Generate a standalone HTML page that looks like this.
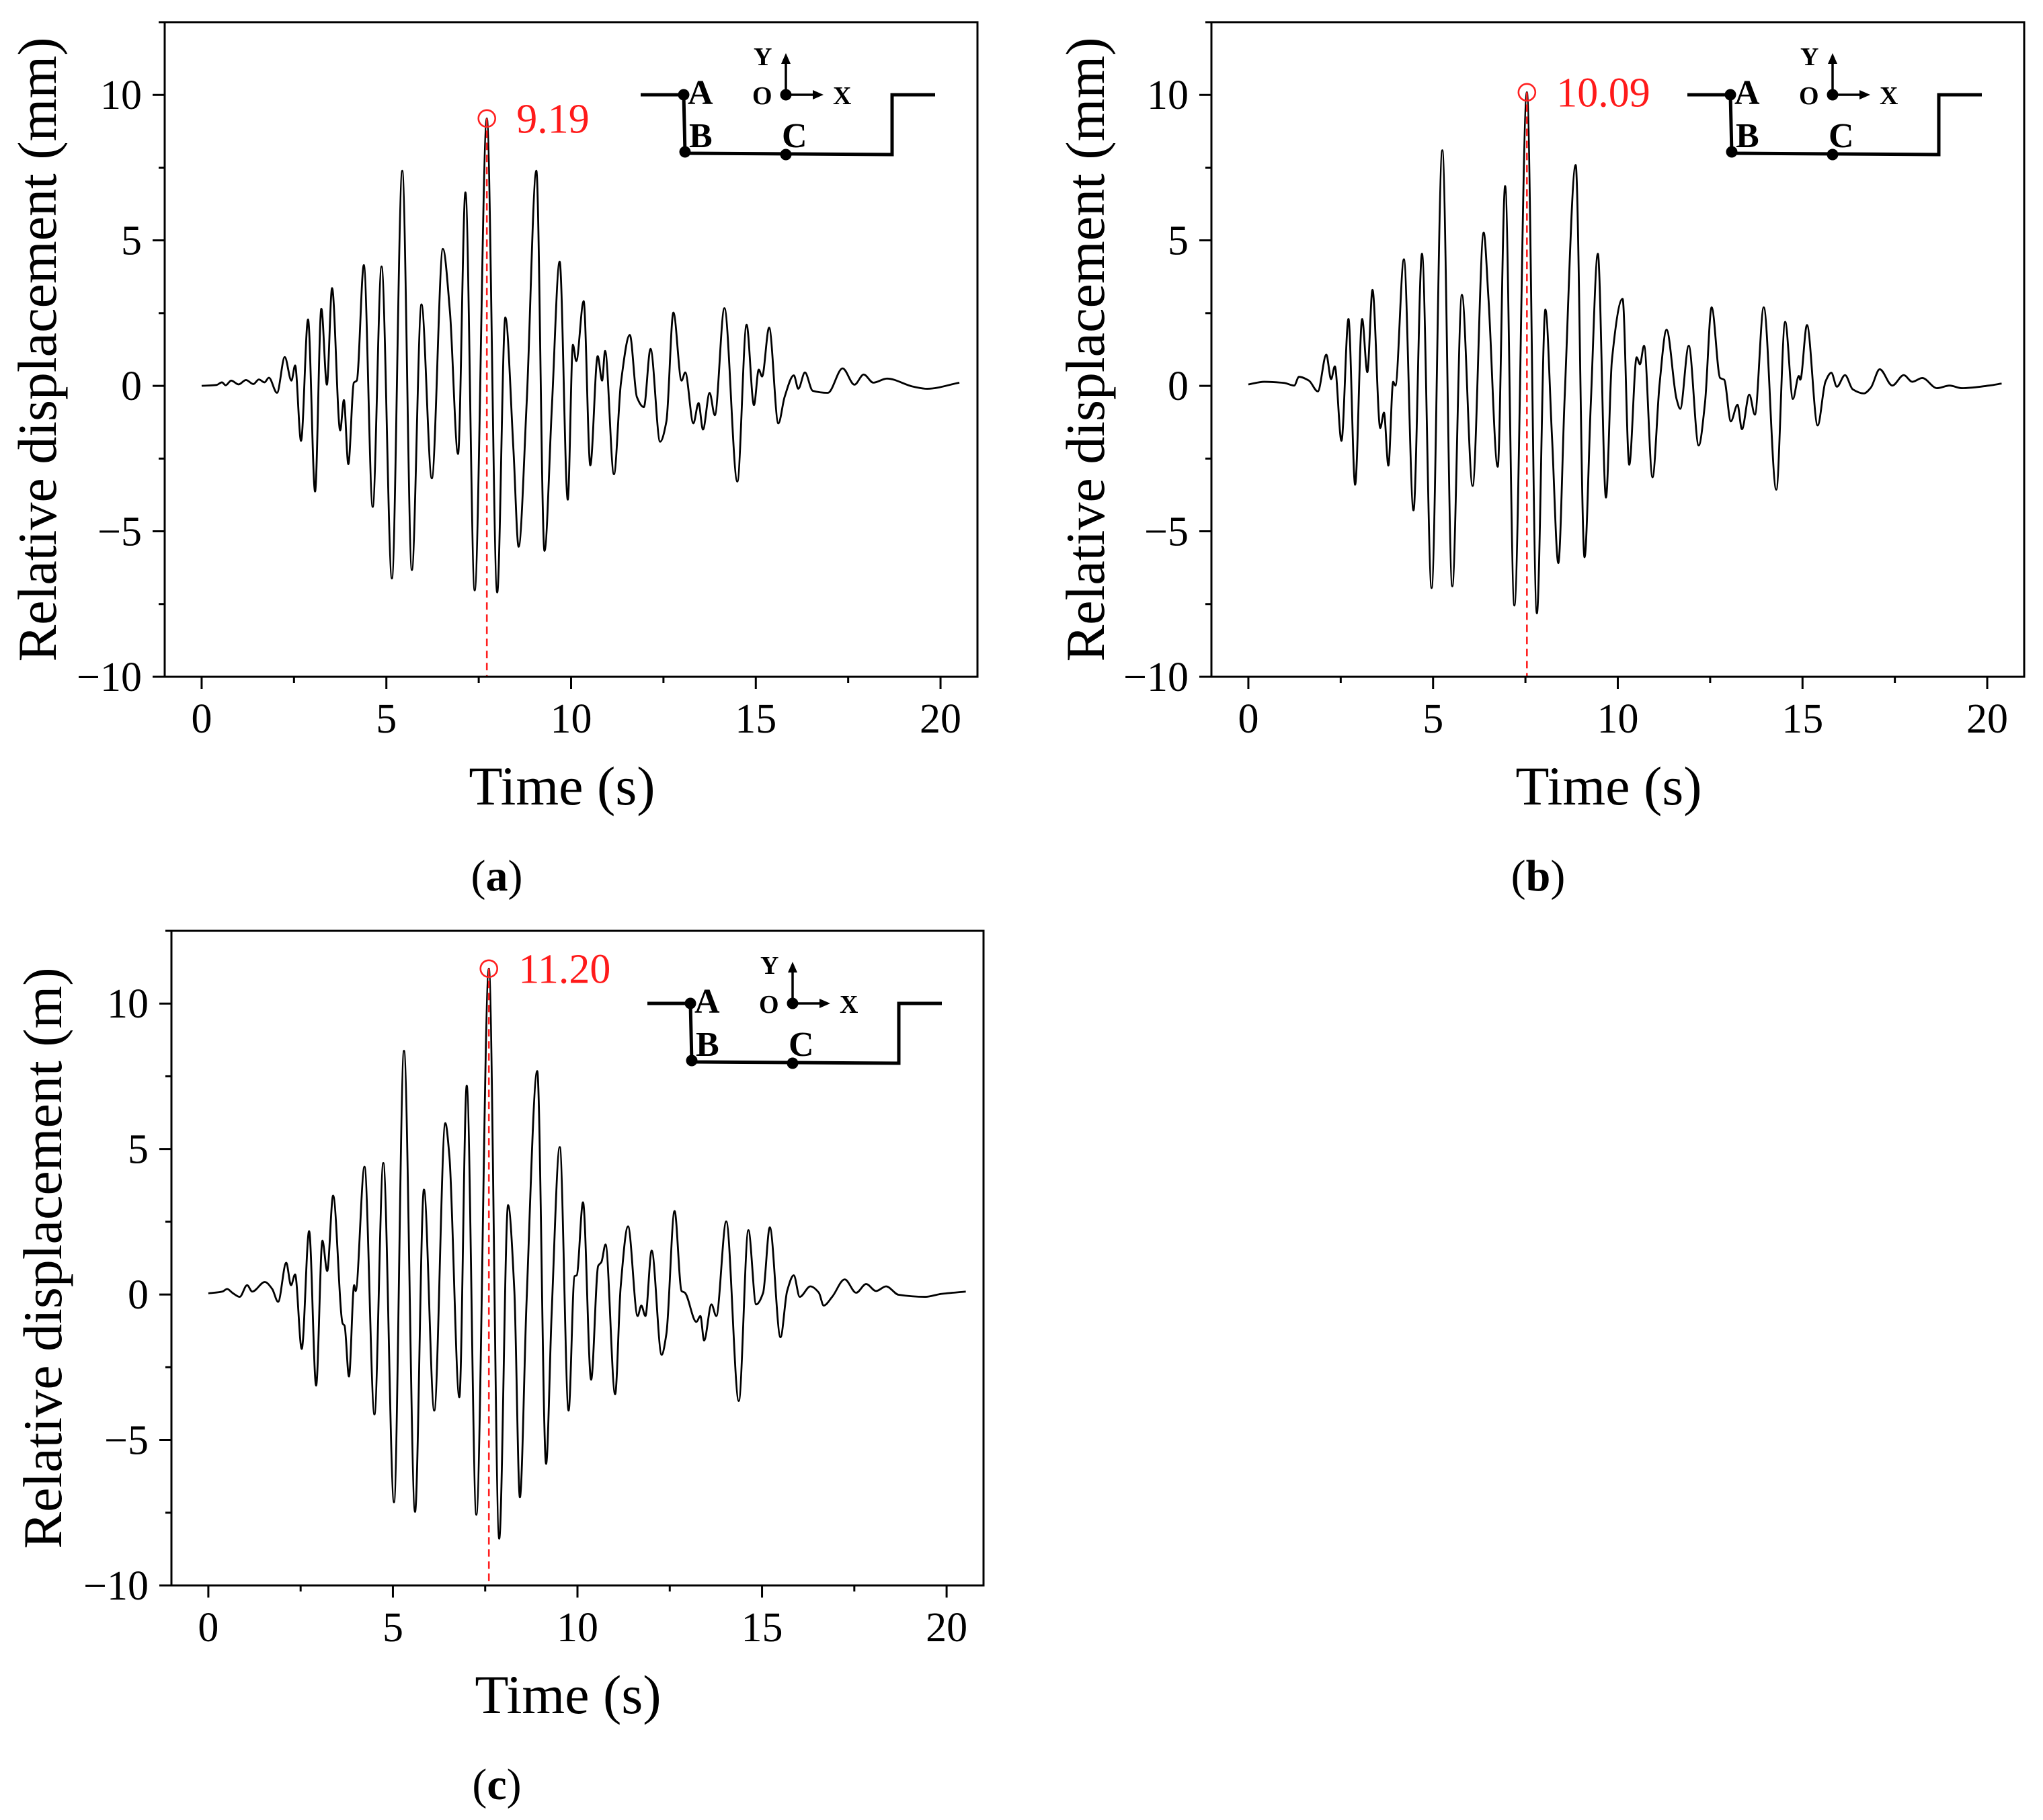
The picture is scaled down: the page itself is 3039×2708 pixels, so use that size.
<!DOCTYPE html>
<html><head><meta charset="utf-8">
<style>
html,body{margin:0;padding:0;background:#fff;}
svg{display:block;}
text{font-family:"Liberation Serif","DejaVu Serif",serif;}
</style></head>
<body>
<svg id="fig" xmlns="http://www.w3.org/2000/svg" width="3039" height="2708" viewBox="0 0 3039 2708"></svg>
<script>
// ---- data ----
const xTickLabels = ["0","5","10","15","20"];
const xTickValues = [0,5,10,15,20];
const yTickValues = [10,5,0,-5,-10];
const yTickText = ["10","5","0","\u22125","\u221210"];
const panelLetters = ["a","b","c"];
const yTitles = ["Relative displacement (mm)","Relative displacement (mm)","Relative displacement (m)"];
const peakTimes = [7.72, 7.54, 7.60];
const peakValues = [9.19, 10.09, 11.20];
const peakLabels = ["9.19","10.09","11.20"];

const timeA = [0,0.4,0.55,0.65,0.8,1.0,1.2,1.4,1.55,1.7,1.82,2.04,2.25,2.43,2.53,2.69,2.88,3.07,3.24,3.39,3.53,3.75,3.85,3.97,4.12,4.20,4.39,4.63,4.87,5.15,5.43,5.69,5.95,6.23,6.53,6.72,6.94,7.14,7.39,7.72,8.00,8.22,8.44,8.58,8.80,9.06,9.28,9.48,9.69,9.91,10.05,10.14,10.34,10.52,10.72,10.84,10.92,11.16,11.35,11.59,11.78,11.97,12.15,12.41,12.58,12.77,12.99,13.09,13.31,13.45,13.57,13.75,13.89,14.15,14.50,14.75,14.95,15.08,15.17,15.36,15.61,15.78,16.03,16.15,16.33,16.54,16.95,17.35,17.67,17.92,18.18,18.55,19.27,19.64,20.51];
const dispA = [0,0.03,0.12,0.02,0.18,0.05,0.2,0.06,0.22,0.12,0.28,-0.24,0.99,0.18,0.70,-1.89,2.28,-3.63,2.65,0.04,3.36,-1.53,-0.49,-2.69,0.11,0.18,4.15,-4.16,4.10,-6.62,7.39,-6.33,2.80,-3.18,4.71,2.56,-2.34,6.65,-7.03,9.19,-7.10,2.35,-2.20,-5.53,-0.52,7.39,-5.67,-0.73,4.27,-3.91,1.41,0.85,2.91,-2.73,1.02,0.18,1.20,-3.04,0.11,1.75,-0.38,-0.73,1.27,-1.92,-1.22,2.52,0.18,0.46,-1.29,-0.59,-1.50,-0.24,-1.01,2.67,-3.29,2.10,-0.66,0.56,0.32,2.00,-1.29,-0.38,0.36,-0.10,0.46,-0.17,-0.24,0.60,0.04,0.39,0.11,0.25,-0.03,-0.10,0.11];

const timeB = [0,0.43,0.97,1.24,1.37,1.64,1.88,2.11,2.24,2.34,2.52,2.71,2.89,3.08,3.22,3.36,3.57,3.67,3.79,3.92,3.98,4.21,4.47,4.70,4.96,5.25,5.52,5.78,6.07,6.37,6.50,6.75,6.95,7.20,7.54,7.81,8.04,8.22,8.39,8.56,8.86,9.10,9.27,9.46,9.68,9.84,10.13,10.31,10.51,10.60,10.71,10.94,11.13,11.32,11.59,11.69,11.92,12.19,12.36,12.54,12.77,12.88,13.06,13.24,13.36,13.56,13.71,13.95,14.29,14.53,14.74,14.90,14.94,15.12,15.41,15.62,15.78,15.93,16.15,16.36,16.66,16.85,17.09,17.43,17.74,17.97,18.24,18.64,18.98,19.31,20.05,20.39];
const dispB = [0.05,0.14,0.10,0.01,0.31,0.18,-0.19,1.07,0.23,0.67,-1.89,2.30,-3.40,2.30,0.47,3.30,-1.45,-0.92,-2.74,0.14,0.01,4.35,-4.28,4.54,-6.95,8.10,-6.89,3.13,-3.44,5.27,2.99,-2.78,6.87,-7.55,10.09,-7.82,2.62,-1.78,-6.09,-0.45,7.59,-5.89,-0.59,4.54,-3.84,0.87,2.99,-2.71,0.98,0.74,1.38,-3.14,0.05,1.93,-0.45,-0.79,1.38,-2.05,-0.59,2.70,0.27,0.21,-1.22,-0.65,-1.49,-0.30,-0.99,2.70,-3.57,2.20,-0.45,0.34,0.21,2.09,-1.36,0.14,0.45,-0.03,0.37,-0.12,-0.26,-0.06,0.57,0.01,0.37,0.14,0.27,-0.08,0.01,-0.08,0.01,0.08];

const timeC = [0,0.38,0.51,0.65,0.85,1.05,1.19,1.53,1.73,1.89,2.11,2.24,2.35,2.53,2.73,2.92,3.09,3.22,3.38,3.64,3.69,3.81,3.95,3.99,4.23,4.50,4.74,5.03,5.30,5.60,5.84,6.12,6.42,6.53,6.80,7.00,7.26,7.60,7.88,8.12,8.29,8.44,8.62,8.91,9.15,9.30,9.52,9.76,9.92,9.98,10.15,10.37,10.56,10.65,10.76,11.02,11.17,11.37,11.63,11.73,11.84,12.01,12.28,12.41,12.63,12.82,12.91,13.22,13.33,13.43,13.63,13.76,14.03,14.37,14.63,14.84,15.03,15.21,15.50,15.68,15.86,16.02,16.31,16.54,16.67,16.90,17.24,17.55,17.82,18.09,18.36,18.70,19.42,19.85,20.52];
const dispC = [0.04,0.10,0.19,0.06,-0.08,0.32,0.10,0.43,0.19,-0.25,1.09,0.32,0.69,-1.87,2.18,-3.13,1.85,0.81,3.40,-1.00,-1.07,-2.82,0.32,0.12,4.39,-4.12,4.52,-7.14,8.38,-7.47,3.61,-3.99,5.89,4.76,-3.53,7.18,-7.57,11.20,-8.39,3.07,0.12,-6.97,-0.27,7.68,-5.82,-0.67,5.07,-3.99,0.63,0.66,3.17,-2.93,0.98,1.12,1.72,-3.43,0.26,2.34,-0.74,-0.38,-0.74,1.51,-2.07,-1.34,2.87,0.12,0.06,-0.94,-0.74,-1.58,-0.34,-0.74,2.51,-3.66,2.21,-0.34,0.06,2.31,-1.47,0.12,0.66,-0.08,0.28,0.06,-0.38,-0.08,0.52,0.06,0.36,0.12,0.28,-0.01,-0.08,0.02,0.10];

const seriesTimes = [timeA, timeB, timeC];
const seriesValues = [dispA, dispB, dispC];

// ---- layout ----
const NS = "http://www.w3.org/2000/svg";
const svg = document.getElementById("fig");
const frames = [
  {left:245, top:33, w:1209, h:974, ytitleX:83, timeX:836, letterX:739},
  {left:1802, top:33, w:1209, h:974, ytitleX:1642, timeX:2393, letterX:2288},
  {left:255, top:1385, w:1208, h:974, ytitleX:91, timeX:845, letterX:739}
];
const X_MIN=-1, X_MAX=21, Y_MIN=-10, Y_MAX=12.5;

function el(tag, attrs, parent){
  const e=document.createElementNS(NS,tag);
  for(const k in attrs) e.setAttribute(k,attrs[k]);
  (parent||svg).appendChild(e);
  return e;
}

function monotonePath(xs, ys){
  const n=xs.length; const d=[], m=[];
  for(let i=0;i<n-1;i++){ d.push((ys[i+1]-ys[i])/(xs[i+1]-xs[i])); }
  m[0]=d[0]; m[n-1]=d[n-2];
  for(let i=1;i<n-1;i++){
    if(d[i-1]*d[i]<=0) m[i]=0;
    else { const w1=2*(xs[i+1]-xs[i])+(xs[i]-xs[i-1]); const w2=(xs[i+1]-xs[i])+2*(xs[i]-xs[i-1]);
      m[i]=(w1+w2)/(w1/d[i-1]+w2/d[i]); }
  }
  let p="M"+xs[0].toFixed(2)+","+ys[0].toFixed(2);
  for(let i=0;i<n-1;i++){
    const h=(xs[i+1]-xs[i])/3;
    p+=" C"+(xs[i]+h).toFixed(2)+","+(ys[i]+m[i]*h).toFixed(2)+" "+(xs[i+1]-h).toFixed(2)+","+(ys[i+1]-m[i+1]*h).toFixed(2)+" "+xs[i+1].toFixed(2)+","+ys[i+1].toFixed(2);
  }
  return p;
}

frames.forEach((f,pi)=>{
  const g=el("g",{});
  
  
  const sx=v=>f.left+(v-X_MIN)/(X_MAX-X_MIN)*f.w;
  const sy=v=>f.top+(Y_MAX-v)/(Y_MAX-Y_MIN)*f.h;
  const bottom=f.top+f.h;

  const xs=seriesTimes[pi].map(sx), ys=seriesValues[pi].map(sy);
  const line=el("path",{d:monotonePath(xs,ys),fill:"none",stroke:"#000","stroke-width":2.8,"stroke-linejoin":"round"},g);
  
  

  const px=sx(peakTimes[pi]), py=sy(peakValues[pi]);
  const dash=el("line",{x1:px,y1:py,x2:px,y2:bottom,stroke:"#ff2020","stroke-width":2.6,"stroke-dasharray":"11,7"},g);
  
  
  const circ=el("circle",{cx:px,cy:py,r:12.5,fill:"none",stroke:"#ff2020","stroke-width":2.6},g);
  
  
  const pl=el("text",{x:px+44,y:py+21,"font-size":62,fill:"#ff1a1a"},g);
  pl.textContent=peakLabels[pi];
  
  

  const fr=el("rect",{x:f.left,y:f.top,width:f.w,height:f.h,fill:"none",stroke:"#000","stroke-width":3},g);
  
  

  for(let v=0; v<=20.01; v+=2.5){
    const major=Math.abs(v%5)<0.01;
    const t=el("line",{x1:sx(v),y1:bottom,x2:sx(v),y2:bottom+(major?18:9),stroke:"#000","stroke-width":3},g);
    
    
  }
  xTickValues.forEach((v,i)=>{
    const t=el("text",{x:sx(v),y:bottom+83,"font-size":62,"text-anchor":"middle",fill:"#000"},g);
    t.textContent=xTickLabels[i];
    
    
  });
  for(let v=-10; v<=12.51; v+=2.5){
    const major=Math.abs(v%5)<0.01;
    const t=el("line",{x1:f.left,y1:sy(v),x2:f.left-(major?18:9),y2:sy(v),stroke:"#000","stroke-width":3},g);
    
    
  }
  yTickValues.forEach((v,i)=>{
    const t=el("text",{x:f.left-34,y:sy(v)+21,"font-size":62,"text-anchor":"end",fill:"#000"},g);
    t.textContent=yTickText[i];
    
    
  });
  const yt=el("text",{x:0,y:0,"font-size":82,"text-anchor":"middle",fill:"#000",transform:"translate("+f.ytitleX+","+(f.top+f.h/2)+") rotate(-90)"},g);
  yt.textContent=yTitles[pi];
  
  
  const xt=el("text",{x:f.timeX,y:bottom+190,"font-size":82,"text-anchor":"middle",fill:"#000"},g);
  xt.textContent="Time (s)";
  
  
  const lt=el("text",{x:f.letterX,y:bottom+318,"font-size":66,"text-anchor":"middle",fill:"#000"},g);
  
  
  const s1=el("tspan",{},lt); s1.textContent="(";
  const s2=el("tspan",{"font-weight":"bold"},lt); s2.textContent=panelLetters[pi];
  const s3=el("tspan",{},lt); s3.textContent=")";

  const ins=el("g",{transform:"translate("+f.left+","+f.top+")"},g);
  
  
  const outline=el("path",{d:"M708,108 L772,108 L774,195 L1082,197 L1082,108 L1146,108",fill:"none",stroke:"#000","stroke-width":5},ins);
  
  
  [[772,108,'point-a'],[774,193,'point-b'],[924,197,'point-c'],[924,108,'origin-o']].forEach(p=>{
    const c=el("circle",{cx:p[0],cy:p[1],r:8.5,fill:"#000"},ins);
    
    
  });
  const ay=el("path",{d:"M924,108 L924,58",stroke:"#000","stroke-width":3.5,fill:"none"},ins);
  
  
  el("path",{d:"M917,62 L924,46 L931,62 Z",fill:"#000"},ins);
  const ax=el("path",{d:"M924,108 L968,108",stroke:"#000","stroke-width":3.5,fill:"none"},ins);
  
  
  el("path",{d:"M964,101 L980,108 L964,115 Z",fill:"#000"},ins);
  [["A",778,122,52],["B",780,186,52],["C",918,186,52],["O",874,122,38],["X",994,122,38],["Y",876,64,38]].forEach(l=>{
    const t=el("text",{x:l[1],y:l[2],"font-size":l[3],"font-weight":"bold",fill:"#000"},ins);
    t.textContent=l[0];
    
    
  });
});
</script>
</body></html>
